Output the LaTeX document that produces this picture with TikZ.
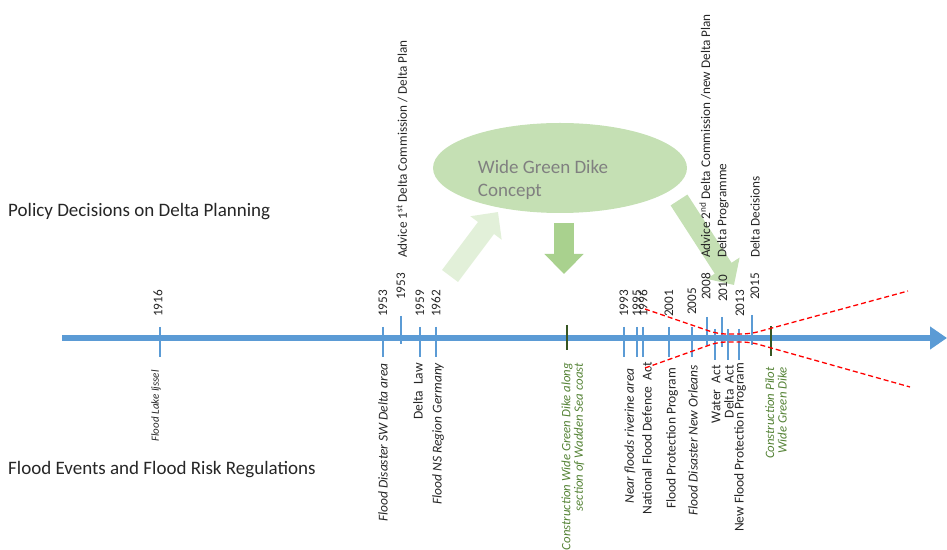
\documentclass[tikz,border=0pt]{standalone}
\usepackage{fontspec}
\setmainfont{Carlito}
\usepackage{tikz}
\usetikzlibrary{shapes.geometric}
\usetikzlibrary{arrows.meta}

\definecolor{axisblue}{HTML}{5B9BD5}
\definecolor{dikegreen}{HTML}{C5E0B4}
\definecolor{palegreen}{HTML}{E2F0D9}
\definecolor{midgreen}{HTML}{A9D18E}
\definecolor{textgreen}{HTML}{548235}
\definecolor{tickgreen}{HTML}{375623}

\begin{document}
\begin{tikzpicture}[x=1pt,y=1pt,
  year/.style={rotate=90,anchor=west,inner sep=0pt,text=black!85,font=\fontsize{13.2}{14}\selectfont},
  event/.style={rotate=90,anchor=east,inner sep=0pt,text=black!85,font=\fontsize{13.5}{14}\selectfont},
  tick/.style={axisblue,line width=2.5pt},
  blockarrow/.style={line width=20pt,-{Triangle[width=38pt,length=20pt]}}]
\useasboundingbox (0,0) rectangle (947,549);

% titles
\node[anchor=west,inner sep=0pt,font=\fontsize{19}{22}\selectfont,text=black!85] (policy) at (8,337) {Policy Decisions on Delta Planning};
\node[anchor=west,inner sep=0pt,font=\fontsize{19}{22}\selectfont,text=black!85] (floods) at (8,79) {Flood Events and Flood Risk Regulations};

% concept
\node[ellipse,fill=dikegreen,minimum width=254,minimum height=90] (concept) at (560,381) {};
\node[align=left,inner sep=0pt,text=black!50,font=\fontsize{19}{23}\selectfont] (concepttext) at (543,369) {Wide Green Dike\\Concept};

\coordinate (a1s) at (450,273);
\coordinate (a1e) at (498,337);
\coordinate (a2s) at (564,326);
\coordinate (a2e) at (564,275);
\coordinate (a3s) at (679,349);
\coordinate (a3e) at (734,264);
\draw[blockarrow,palegreen] (a1s) -- (a1e);
\draw[blockarrow,midgreen] (a2s) -- (a2e);
\draw[blockarrow,dikegreen] (a3s) -- (a3e);

% time axis
\coordinate (tstart) at (62,211);
\coordinate (tend) at (947,211);
\draw[axisblue,line width=6pt,-{Triangle[width=22pt,length=17pt]}] (tstart) -- (tend);

% ticks
\draw[tick] (160,222) -- (160,192);
\draw[tick] (383,222) -- (383,192);
\draw[tick] (401,233) -- (401,205);
\draw[tick] (420,222) -- (420,192);
\draw[tick] (436,222) -- (436,192);
\draw[tickgreen,line width=2.5pt] (567,224) -- (567,199);
\draw[tick] (624,222) -- (624,192);
\draw[tick] (637,222) -- (637,192);
\draw[tick] (643,222) -- (643,192);
\draw[tick] (669,222) -- (669,192);
\draw[tick] (692,222) -- (692,192);
\draw[tick] (707,232) -- (707,204);
\draw[tick] (715,220) -- (715,189);
\draw[tick] (722,232) -- (722,202);
\draw[tick] (728,220) -- (728,189);
\draw[tick] (739,220) -- (739,189);
\draw[tick] (752,234) -- (752,204);
\draw[tickgreen,line width=2.5pt] (771,223) -- (771,193);

% years
\node[year] (y1916) at (158,232) {1916};
\node[year] (y1953) at (383,232) {1953};
\node[year] (y1953b) at (401,249) {1953};
\node[year] (y1959) at (420,232) {1959};
\node[year] (y1962) at (436,232) {1962};
\node[year] (y1993) at (624,232) {1993};
\node[year] (y1995) at (637,232) {1995};
\node[year] (y1996) at (643,232) {1996};
\node[year] (y2001) at (669,232) {2001};
\node[year] (y2005) at (692,234) {2005};
\node[year] (y2008) at (706,249) {2008};
\node[year] (y2010) at (723,247) {2010};
\node[year] (y2013) at (740,232) {2013};
\node[year] (y2015) at (755,249) {2015};

% policy decisions
\node[year] (advice1) at (402,291) {Advice 1\textsuperscript{st} Delta Commission / Delta Plan};
\node[year] (advice2) at (705,291) {Advice 2\textsuperscript{nd} Delta Commission /new Delta Plan};
\node[year] (deltaprog) at (723,291) {Delta Programme};
\node[year] (deltadec) at (755,291) {Delta Decisions};

% flood events and regulations
\node[event,font=\fontsize{11}{12}\selectfont\itshape] (ijssel) at (156,179) {Flood Lake Ijssel};
\node[event,font=\fontsize{13.5}{14}\selectfont\itshape] (swdelta) at (383,186) {Flood Disaster SW Delta area};
\node[event] (deltalaw) at (418,186) {Delta~~Law};
\node[event,font=\fontsize{13.5}{14}\selectfont\itshape] (nsgermany) at (438,186) {Flood NS Region Germany};
\node[event,align=right,text=textgreen,font=\fontsize{12.8}{12.5}\selectfont\itshape] (wadden) at (573,186) {Construction Wide Green Dike along\\section of Wadden Sea coast};
\node[event,font=\fontsize{13.5}{14}\selectfont\itshape] (nearfloods) at (630,181) {Near floods riverine area};
\node[event] (nfda) at (647,187) {National Flood Defence~~Act};
\node[event] (fpp) at (672,181) {Flood Protection Program};
\node[event,font=\fontsize{13.5}{14}\selectfont\itshape] (neworleans) at (693,184) {Flood Disaster New Orleans};
\node[event] (wateract) at (716,184) {Water~~Act};
\node[event] (deltaact) at (729,184) {Delta~~Act};
\node[event] (nfpp) at (740,186) {New Flood Protection Program};
\node[event,align=right,text=textgreen,font=\fontsize{12.8}{12.5}\selectfont\itshape] (pilot) at (776,182) {Construction Pilot\\Wide Green Dike};

% red dashed funnel
\draw[red,line width=1.3pt,dash pattern=on 5pt off 3pt,rounded corners=8pt] (645,240) -- (718,215) -- (750,215) -- (908,258);
\draw[red,line width=1.3pt,dash pattern=on 5pt off 3pt,rounded corners=8pt] (645,181) -- (718,207) -- (750,207) -- (910,162);
\end{tikzpicture}
\end{document}
